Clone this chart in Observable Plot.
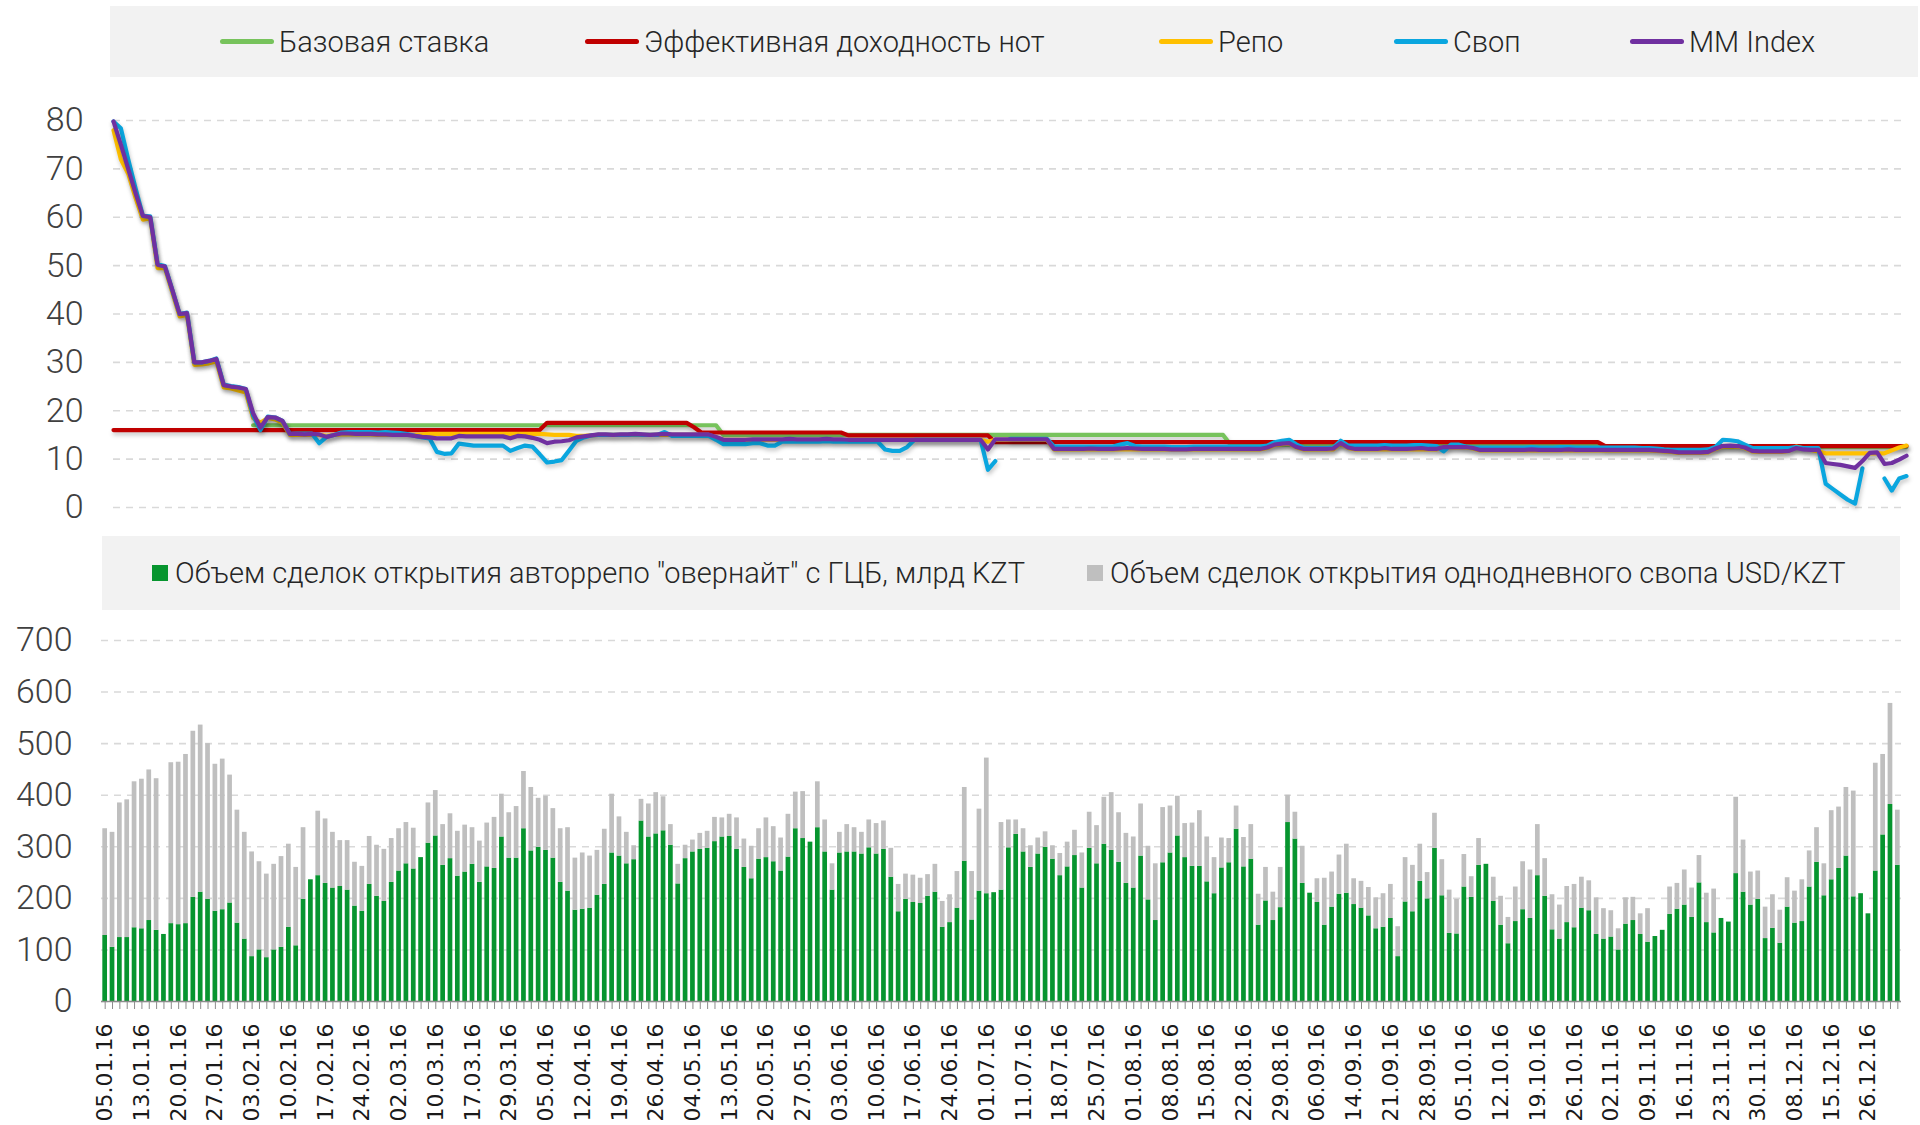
<!DOCTYPE html>
<html><head><meta charset="utf-8">
<script src="https://cdn.jsdelivr.net/npm/d3@7"></script>
<script src="https://cdn.jsdelivr.net/npm/@observablehq/plot@0.6"></script>
<style>
html,body{margin:0;padding:0;background:#fff;}
#root{position:relative;width:1920px;height:1125px;overflow:hidden;font-family:Roboto,"Open Sans",sans-serif;font-weight:300;color:#262626;}
.legend{position:absolute;background:#f2f2f2;}
.item{position:absolute;top:0;height:100%;display:flex;align-items:center;font-size:29px;white-space:nowrap;}
.sw-line{display:inline-block;width:54px;height:5px;border-radius:3px;margin-right:5px;}
.sw-box{display:inline-block;width:16px;height:16px;margin-right:7px;}
.chart{position:absolute;left:0;}
</style></head>
<body><div id="root">
<div class="legend" id="legTop" style="left:110px;top:6px;width:1808px;height:71px"></div>
<div class="chart" id="top" style="top:80px"></div>
<div class="legend" id="legBot" style="left:102px;top:536px;width:1798px;height:74px"></div>
<div class="chart" id="bottom" style="top:610px"></div>
</div>
<script>
const dates = [
"05.01.16","06.01.16","08.01.16","11.01.16","12.01.16","13.01.16","14.01.16","15.01.16","18.01.16","19.01.16",
"20.01.16","21.01.16","22.01.16","25.01.16","26.01.16","27.01.16","28.01.16","29.01.16","01.02.16","02.02.16",
"03.02.16","04.02.16","05.02.16","08.02.16","09.02.16","10.02.16","11.02.16","12.02.16","15.02.16","16.02.16",
"17.02.16","18.02.16","19.02.16","22.02.16","23.02.16","24.02.16","25.02.16","26.02.16","29.02.16","01.03.16",
"02.03.16","03.03.16","04.03.16","07.03.16","09.03.16","10.03.16","11.03.16","14.03.16","15.03.16","16.03.16",
"17.03.16","18.03.16","24.03.16","25.03.16","28.03.16","29.03.16","30.03.16","31.03.16","01.04.16","04.04.16",
"05.04.16","06.04.16","07.04.16","08.04.16","11.04.16","12.04.16","13.04.16","14.04.16","15.04.16","18.04.16",
"19.04.16","20.04.16","21.04.16","22.04.16","25.04.16","26.04.16","27.04.16","28.04.16","29.04.16","03.05.16",
"04.05.16","05.05.16","06.05.16","11.05.16","12.05.16","13.05.16","16.05.16","17.05.16","18.05.16","19.05.16",
"20.05.16","23.05.16","24.05.16","25.05.16","26.05.16","27.05.16","30.05.16","31.05.16","01.06.16","02.06.16",
"03.06.16","06.06.16","07.06.16","08.06.16","09.06.16","10.06.16","13.06.16","14.06.16","15.06.16","16.06.16",
"17.06.16","20.06.16","21.06.16","22.06.16","23.06.16","24.06.16","27.06.16","28.06.16","29.06.16","30.06.16",
"01.07.16","04.07.16","05.07.16","07.07.16","08.07.16","11.07.16","12.07.16","13.07.16","14.07.16","15.07.16",
"18.07.16","19.07.16","20.07.16","21.07.16","22.07.16","25.07.16","26.07.16","27.07.16","28.07.16","29.07.16",
"01.08.16","02.08.16","03.08.16","04.08.16","05.08.16","08.08.16","09.08.16","10.08.16","11.08.16","12.08.16",
"15.08.16","16.08.16","17.08.16","18.08.16","19.08.16","22.08.16","23.08.16","24.08.16","25.08.16","26.08.16",
"29.08.16","31.08.16","01.09.16","02.09.16","05.09.16","06.09.16","07.09.16","08.09.16","09.09.16","13.09.16",
"14.09.16","15.09.16","16.09.16","19.09.16","20.09.16","21.09.16","22.09.16","23.09.16","26.09.16","27.09.16",
"28.09.16","29.09.16","30.09.16","03.10.16","04.10.16","05.10.16","06.10.16","07.10.16","10.10.16","11.10.16",
"12.10.16","13.10.16","14.10.16","17.10.16","18.10.16","19.10.16","20.10.16","21.10.16","24.10.16","25.10.16",
"26.10.16","27.10.16","28.10.16","31.10.16","01.11.16","02.11.16","03.11.16","04.11.16","07.11.16","08.11.16",
"09.11.16","10.11.16","11.11.16","14.11.16","15.11.16","16.11.16","17.11.16","18.11.16","21.11.16","22.11.16",
"23.11.16","24.11.16","25.11.16","28.11.16","29.11.16","30.11.16","02.12.16","05.12.16","06.12.16","07.12.16",
"08.12.16","09.12.16","12.12.16","13.12.16","14.12.16","15.12.16","20.12.16","21.12.16","22.12.16","23.12.16",
"26.12.16","27.12.16","28.12.16","29.12.16","30.12.16"];

const tickLabels = ["05.01.16","13.01.16","20.01.16","27.01.16","03.02.16","10.02.16","17.02.16","24.02.16","02.03.16","10.03.16",
"17.03.16","29.03.16","05.04.16","12.04.16","19.04.16","26.04.16","04.05.16","13.05.16","20.05.16","27.05.16",
"03.06.16","10.06.16","17.06.16","24.06.16","01.07.16","11.07.16","18.07.16","25.07.16","01.08.16","08.08.16",
"15.08.16","22.08.16","29.08.16","06.09.16","14.09.16","21.09.16","28.09.16","05.10.16","12.10.16","19.10.16",
"26.10.16","02.11.16","09.11.16","16.11.16","23.11.16","30.11.16","08.12.16","15.12.16","26.12.16"];

const baseRate = [
null,null,null,null,null,null,null,null,null,null,
null,null,null,null,null,null,null,null,null,17,
17,17,17,17,17,17,17,17,17,17,
17,17,17,17,17,17,17,17,17,17,
17,17,17,17,17,17,17,17,17,17,
17,17,17,17,17,17,17,17,17,17,
17,17,17,17,17,17,17,17,17,17,
17,17,17,17,17,17,17,17,17,17,
17,17,17,15,15,15,15,15,15,15,
15,15,15,15,15,15,15,15,15,15,
15,15,15,15,15,15,15,15,15,15,
15,15,15,15,15,15,15,15,15,15,
15,15,15,15,15,15,15,15,15,15,
15,15,15,15,15,15,15,15,15,15,
15,15,15,15,15,15,15,15,15,15,
15,15,13,13,13,13,13,13,13,13,
13,13,13,13,13,13,13,13,13,13,
13,13,13,13,13,13,13,13,13,13,
13,13,13,13,13,13,13,13,13,13,
13,13,13,13,13,13,13,13,13,13,
13,13,13,12.5,12.5,12.5,12.5,12.5,12.5,12.5,
12.5,12.5,12.5,12.5,12.5,12.5,12.5,12.5,12.5,12.5,
12.5,12.5,12.5,12.5,12.5,12.5,12.5,12.5,12.5,12.5,
12.5,12.5,12.5,12.5,12.5,12.5,12.5,12.5,12.5,12.5,
12.5,12.5,12.5,12.5,12.5];

const notesYield = [
16,16,16,16,16,16,16,16,16,16,
16,16,16,16,16,16,16,16,16,16,
16,16,16,16,16,16,16,16,16,16,
16,16,16,16,16,16,16,16,16,16,
16,16,16,16,16,16,16,16,16,16,
16,16,16,16,16,16,16,16,16,17.5,
17.5,17.5,17.5,17.5,17.5,17.5,17.5,17.5,17.5,17.5,
17.5,17.5,17.5,17.5,17.5,17.5,17.5,17.5,17.5,16.6,
15.5,15.5,15.5,15.5,15.5,15.5,15.5,15.5,15.5,15.5,
15.5,15.5,15.5,15.5,15.5,15.5,15.5,15.5,15.5,15.5,
14.9,14.9,14.9,14.9,14.9,14.9,14.9,14.9,14.9,14.9,
14.9,14.9,14.9,14.9,14.9,14.9,14.9,14.9,14.9,14.9,
13.5,13.5,13.5,13.5,13.5,13.5,13.5,13.5,13.5,13.5,
13.5,13.5,13.5,13.5,13.5,13.5,13.5,13.5,13.5,13.5,
13.5,13.5,13.5,13.5,13.5,13.5,13.5,13.5,13.5,13.5,
13.5,13.5,13.5,13.5,13.5,13.5,13.5,13.5,13.5,13.5,
13.5,13.5,13.5,13.5,13.5,13.5,13.5,13.5,13.5,13.5,
13.5,13.5,13.5,13.5,13.5,13.5,13.5,13.5,13.5,13.5,
13.5,13.5,13.5,13.5,13.5,13.5,13.5,13.5,13.5,13.5,
13.5,13.5,13.5,13.5,13.5,13.5,13.5,13.5,13.5,13.5,
13.5,13.5,13.5,12.7,12.7,12.7,12.7,12.7,12.7,12.7,
12.7,12.7,12.7,12.7,12.7,12.7,12.7,12.7,12.7,12.7,
12.7,12.7,12.7,12.7,12.7,12.7,12.7,12.7,12.7,12.7,
12.7,12.7,12.7,12.7,12.7,12.7,12.7,12.7,12.7,12.7,
12.7,12.7,12.7,12.7,12.7];

const repoRate = [
78,72,69,64,59.5,59.8,49.5,49.5,44.5,39.5,
39.8,29.5,29.6,29.8,30.2,24.8,24.6,24.2,23.8,18.5,
17.5,18.5,18.2,17.5,15.0,15.0,15.0,15.0,15.0,14.8,
15.0,15.1,15.1,15.1,15.1,15.1,15.0,15.0,15.0,15.0,
15.0,15.0,15.1,15.2,15.2,15.2,15.2,15.2,15.2,15.2,
15.2,15.2,15.2,15.2,15.2,15.2,15.2,15.2,15.2,15.1,
15.0,15.0,15.0,14.8,14.8,14.9,15.0,15.0,15.0,15.0,
15.0,15.0,15.0,15.0,15.0,15.0,15.0,15.0,15.0,15.0,
15.0,15.0,14.5,14.0,14.0,14.0,14.0,14.0,14.0,14.0,
14.0,14.0,14.0,14.0,14.0,14.0,14.0,14.0,14.0,14.0,
14.0,14.0,14.0,14.0,14.0,14.0,14.0,14.0,14.0,14.0,
14.0,14.0,14.0,14.0,14.0,14.0,14.0,14.0,14.0,13.6,
14.0,14.0,14.0,14.0,14.0,14.0,14.0,14.0,12.0,12.0,
12.0,12.0,12.0,12.0,12.0,12.0,12.0,12.0,12.0,12.0,
12.0,12.0,12.0,12.0,12.0,12.0,12.0,12.0,12.0,12.0,
12.0,12.0,12.0,12.0,12.0,12.0,12.0,12.3,12.9,13.1,
13.2,12.4,12.0,12.0,12.0,12.0,12.0,13.2,12.3,12.0,
12.0,12.0,12.0,12.0,12.0,12.0,12.0,12.0,12.0,12.0,
12.0,12.4,12.4,12.4,12.4,12.2,11.8,11.8,11.8,11.8,
11.8,11.8,11.8,11.8,11.8,11.8,11.8,11.8,11.8,11.8,
11.8,11.8,11.8,11.8,11.8,11.8,11.8,11.8,11.8,11.8,
11.7,11.6,11.5,11.3,11.3,11.3,11.3,11.4,12.1,12.6,
12.7,12.6,12.3,11.6,11.5,11.5,11.5,11.5,11.7,12.6,
12.2,11.9,11.6,11.2,11.2,11.2,11.2,11.2,11.2,11.2,
11.2,11.2,11.8,12.4,12.8];

const swapRate = [
79.8,78.4,72,66,60.3,60.2,50.3,49.9,45,40,
40.3,30,30,30.3,30.8,25.4,25.1,24.9,24.5,19,
16.0,18.8,18.6,17.9,15.2,15.3,15.3,15.3,13.3,14.6,
15.0,15.5,15.6,15.6,15.6,15.6,15.5,15.6,15.5,15.4,
15.2,14.8,14.5,14.3,11.5,11.1,11.2,13.2,13.0,12.8,
12.8,12.8,12.8,12.8,11.7,12.3,12.8,12.6,11.0,9.3,
9.5,9.8,11.8,13.8,14.5,14.9,15.0,15.0,15.0,15.0,
15.0,15.1,15.0,15.0,15.0,15.6,14.8,14.8,14.8,14.8,
14.8,14.8,14.0,13.1,13.1,13.1,13.1,13.3,13.3,12.8,
12.8,13.6,13.6,13.6,13.6,13.6,13.6,13.7,13.6,13.6,
13.6,13.6,13.6,13.6,13.6,12.0,11.7,11.7,12.5,14.0,
14.0,14.0,14.0,14.0,14.0,14.0,14.0,14.0,14.0,7.8,
9.6,null,14.2,14.2,14.2,14.2,14.2,14.2,12.6,12.6,
12.6,12.6,12.6,12.6,12.6,12.6,12.6,13.0,13.3,12.7,
12.6,12.6,12.6,12.6,12.5,12.5,12.5,12.6,12.6,12.6,
12.6,12.6,12.6,12.6,12.6,12.6,12.6,12.8,13.5,13.8,
14.0,13.0,12.3,12.3,12.3,12.3,12.4,13.8,12.8,12.8,
12.8,12.8,12.8,12.9,12.8,12.8,12.8,12.9,12.9,12.8,
12.7,11.6,13.0,13.0,12.6,12.4,12.4,12.4,12.4,12.4,
12.4,12.4,12.4,12.5,12.4,12.4,12.4,12.5,12.5,12.4,
12.4,12.4,12.4,12.4,12.4,12.4,12.4,12.4,12.3,12.3,
12.2,12.0,11.9,11.9,11.9,11.9,11.9,12.0,12.5,14.0,
13.9,13.7,13.0,12.3,12.3,12.3,12.3,12.3,12.3,12.5,
12.3,12.3,12.3,4.9,3.8,2.7,1.6,0.8,8.1,null,
null,6.0,3.5,6.0,6.5];

const mmIndex = [
79.8,75,70,65,60.3,60,50.2,49.8,45,40,
40.2,30,30,30.3,30.7,25.3,25,24.8,24.5,19.5,
16.5,18.7,18.6,17.9,15.2,15.2,15.1,15.2,15.1,14.6,
15.0,15.3,15.3,15.2,15.2,15.2,15.1,15.1,15.0,15.0,
15.0,14.8,14.6,14.5,14.3,14.3,14.3,14.8,14.7,14.7,
14.7,14.7,14.7,14.7,14.3,14.8,14.7,14.4,14.0,13.3,
13.6,13.7,13.9,14.5,14.7,14.9,15.1,15.1,15.0,15.1,
15.1,15.2,15.1,15.0,15.1,15.2,15.1,15.1,15.1,15.1,
15.1,15.1,14.6,14.0,14.0,14.0,14.0,14.1,14.1,14.1,
14.1,14.1,14.2,14.1,14.1,14.1,14.1,14.2,14.1,14.1,
14.0,14.0,14.0,14.0,14.0,14.0,14.0,14.0,14.0,14.0,
14.0,14.0,14.0,14.0,14.0,14.0,14.0,14.0,14.0,12.0,
14.1,14.1,14.1,14.1,14.1,14.1,14.1,14.1,12.1,12.1,
12.1,12.1,12.1,12.2,12.1,12.1,12.1,12.2,12.3,12.2,
12.1,12.1,12.1,12.1,12.0,12.0,12.0,12.1,12.1,12.1,
12.1,12.1,12.1,12.1,12.1,12.1,12.1,12.4,13.0,13.2,
13.3,12.5,12.1,12.1,12.1,12.1,12.2,13.3,12.4,12.1,
12.1,12.1,12.1,12.3,12.1,12.1,12.1,12.2,12.3,12.1,
12.1,12.5,12.5,12.5,12.5,12.3,11.9,11.9,11.9,11.9,
11.9,11.9,11.9,12.0,11.9,11.9,11.9,11.9,12.0,11.9,
11.9,11.9,11.9,11.9,11.9,11.9,11.9,11.9,11.9,11.9,
11.8,11.7,11.6,11.4,11.4,11.4,11.4,11.5,12.2,12.7,
12.8,12.7,12.4,11.7,11.6,11.6,11.6,11.6,11.7,12.3,
12.0,11.9,11.9,9.2,9.0,8.8,8.5,8.2,9.6,11.3,
11.4,9.0,9.2,9.9,10.7];

const repoVolume = [
128,105,124,124,143,141,157,138,130,151,
149,151,202,212,198,175,178,191,152,121,
87,100,85,100,105,144,108,198,236,244,
229,220,223,216,185,175,227,204,194,231,
253,267,257,279,307,321,264,277,243,251,
266,231,261,258,319,278,278,335,292,299,
293,278,231,214,177,179,181,206,227,288,
282,267,275,350,319,325,331,303,228,277,
290,295,297,310,319,320,295,260,238,276,
279,271,253,280,335,316,309,337,290,216,
288,290,290,286,298,286,295,241,174,198,
192,190,204,212,144,153,181,272,158,214,
209,211,216,298,324,290,260,286,299,276,
244,261,283,220,297,267,305,293,270,229,
220,282,197,157,269,288,321,279,262,262,
232,209,259,269,334,261,276,148,195,157,
182,347,315,229,210,192,148,183,208,210,
188,181,166,141,144,161,87,193,174,233,
199,297,205,132,131,222,202,264,266,194,
148,112,155,178,161,244,204,139,121,153,
143,181,176,130,121,125,100,150,157,130,
115,126,138,169,179,187,163,230,153,133,
161,154,248,212,187,198,122,142,113,183,
152,155,222,270,205,236,258,282,203,209,
170,253,323,382,264];

const swapVolume = [
207,223,261,267,283,290,292,294,0,312,
315,328,322,324,302,285,292,248,219,207,
203,171,162,166,176,161,152,139,0,125,
125,108,89,96,85,87,93,99,101,85,
82,80,79,0,78,88,79,87,87,91,
71,80,85,99,83,88,100,111,123,95,
105,96,104,123,101,109,101,87,107,114,
76,61,27,42,64,80,66,40,38,26,
23,31,33,47,37,43,61,55,63,59,
77,68,64,83,71,91,0,89,62,51,
40,53,47,42,54,59,55,56,53,49,
53,49,42,54,50,54,71,143,94,159,
263,0,131,54,28,45,42,31,30,26,
43,48,49,68,70,74,91,112,96,97,
99,101,104,110,107,91,77,66,84,108,
87,70,58,47,45,57,67,60,65,55,
78,53,52,72,0,46,91,68,76,95,
50,52,55,60,65,66,58,86,90,72,
51,68,70,84,67,63,40,52,0,47,
56,51,67,93,94,99,73,68,66,70,
84,60,58,71,59,51,41,51,45,40,
65,0,0,53,50,68,57,53,57,85,
0,0,148,101,64,55,61,65,64,57,
62,81,70,67,62,134,119,133,205,0,
0,209,156,196,107];

const lineNames = ["Базовая ставка","Эффективная доходность нот","Репо","Своп","MM Index"];
const lineColors = ["#77C35C","#C00000","#FFC000","#0AA6DF","#7030A0"];
const lineValues = [baseRate, notesYield, repoRate, swapRate, mmIndex];
const barNames = ["Объем сделок открытия авторрепо \"овернайт\" с ГЦБ, млрд KZT","Объем сделок открытия однодневного свопа USD/KZT"];
const barColors = ["#07952F","#BFBFBF"];

// legends
const legTop = document.getElementById("legTop");
const topLegendLeft = [110, 475, 1049, 1284, 1520];
lineNames.forEach((n,i)=>{
  const it = document.createElement("div"); it.className="item"; it.style.left = topLegendLeft[i]+"px";
  const sw = document.createElement("span"); sw.className="sw-line"; sw.style.background=lineColors[i];
  it.appendChild(sw); it.appendChild(document.createTextNode(n)); legTop.appendChild(it);
});
const legBot = document.getElementById("legBot");
const botLegendLeft = [50, 985];
barNames.forEach((n,i)=>{
  const it = document.createElement("div"); it.className="item"; it.style.left = botLegendLeft[i]+"px";
  const sw = document.createElement("span"); sw.className="sw-box"; sw.style.background=barColors[i];
  it.appendChild(sw); it.appendChild(document.createTextNode(n)); legBot.appendChild(it);
});

const gridStyle = {stroke:"#d9d9d9", strokeOpacity:1, strokeWidth:1.6, strokeDasharray:"7,6"};

const topChart = Plot.plot({
  width: 1920, height: 450,
  marginTop: 40, marginBottom: 23, marginLeft: 113, marginRight: 14,
  x: {type:"point", domain: dates, padding: 0, axis: null},
  y: {domain:[0,80], ticks: 8},
  style: {fontFamily:"Roboto, 'Open Sans', sans-serif", fontWeight:300, color:"#404040", background:"transparent", overflow:"visible"},
  marks: [
    Plot.gridY({ticks: 8, ...gridStyle}),
    Plot.axisY({ticks: 8, tickSize:0, tickPadding:30, label:null, fontSize:34}),
    ...lineValues.map((vals,k)=>Plot.line(dates.map((d,i)=>({date:d, value: vals[i]})), {
      x:"date", y:"value", stroke: lineColors[k], strokeWidth:4.2, strokeLinejoin:"round", strokeLinecap:"round"
    }))
  ]
});
document.getElementById("top").appendChild(topChart);
d3.select(topChart).selectAll("g[aria-label='line']").style("filter","drop-shadow(1px 3px 2px rgba(0,0,0,0.22))");

const barData = [];
dates.forEach((d,i)=>{
  barData.push({date:d, series: barNames[0], value: repoVolume[i]});
  barData.push({date:d, series: barNames[1], value: swapVolume[i]});
});

const bottomChart = Plot.plot({
  width: 1920, height: 515,
  marginTop: 30, marginBottom: 124, marginLeft: 101, marginRight: 19,
  x: {type:"band", domain: dates, paddingInner:0.36, paddingOuter:0.18, axis:null},
  y: {domain:[0,700], ticks: 7},
  color: {domain: barNames, range: barColors},
  style: {fontFamily:"Roboto, 'Open Sans', sans-serif", fontWeight:300, color:"#404040", background:"transparent", overflow:"visible"},
  marks: [
    Plot.gridY({ticks: 7, ...gridStyle}),
    Plot.barY(barData, {x:"date", y:"value", fill:"series"}),
    Plot.ruleY([0], {stroke:"#8c8c8c", strokeWidth:1.5}),
    Plot.axisX(dates, {tickSize:8, tickFormat: () => "", stroke:"#8c8c8c", strokeWidth:1, label:null}),
    Plot.axisX(tickLabels, {tickSize:0, tickRotate:-90, tickPadding:22, fontSize:22, fontFamily:"'DejaVu Sans', sans-serif", fontWeight:400, fill:"#1a1a1a", label:null}),
    Plot.axisY({ticks: 7, tickSize:0, tickPadding:29, label:null, fontSize:34})
  ]
});
document.getElementById("bottom").appendChild(bottomChart);
</script>
</body></html>
